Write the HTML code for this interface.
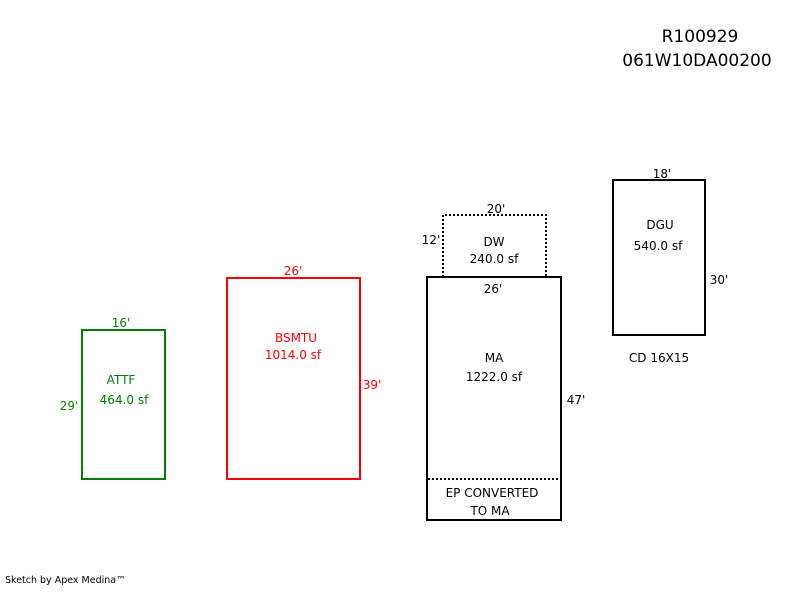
<!DOCTYPE html>
<html><head><style>
html,body{margin:0;padding:0;background:#fff;}
</style></head><body>
<svg width="800" height="587" xmlns="http://www.w3.org/2000/svg" font-family="DejaVu Sans, Liberation Sans, sans-serif" font-size="12">
<text x="700" y="42" text-anchor="middle" font-size="17">R100929</text>
<text x="697" y="66" text-anchor="middle" font-size="17">061W10DA00200</text>

<g fill="none" stroke-width="2">
<rect x="82" y="330" width="83" height="149" stroke="#008000"/>
<rect x="227" y="278" width="133" height="201" stroke="#ff0000"/>
<rect x="427" y="277" width="134" height="243" stroke="#000"/>
<rect x="613" y="180" width="92" height="155" stroke="#000"/>
<path d="M443 277 V215 H546 V277" stroke="#000" stroke-dasharray="2,2"/>
<path d="M428 479 H560" stroke="#000" stroke-dasharray="2,2"/>
</g>

<g fill="#008000" text-anchor="middle">
<text x="121" y="327">16'</text>
<text x="121" y="384">ATTF</text>
<text x="124" y="404">464.0 sf</text>
<text x="69" y="410">29'</text>
</g>
<g fill="#ff0000" text-anchor="middle">
<text x="293" y="275">26'</text>
<text x="296" y="342">BSMTU</text>
<text x="293" y="359">1014.0 sf</text>
<text x="372" y="389">39'</text>
</g>
<g fill="#000" text-anchor="middle">
<text x="496" y="213">20'</text>
<text x="431" y="244">12'</text>
<text x="494" y="246">DW</text>
<text x="494" y="263">240.0 sf</text>
<text x="493" y="293">26'</text>
<text x="494" y="362">MA</text>
<text x="494" y="381">1222.0 sf</text>
<text x="576" y="404">47'</text>
<text x="492" y="497">EP CONVERTED</text>
<text x="490" y="515">TO MA</text>
<text x="662" y="178">18'</text>
<text x="660" y="229">DGU</text>
<text x="658" y="250">540.0 sf</text>
<text x="719" y="284">30'</text>
<text x="659" y="362">CD 16X15</text>
</g>
<text x="5" y="583" font-size="9.5">Sketch by Apex Medina™</text>
</svg>
</body></html>
